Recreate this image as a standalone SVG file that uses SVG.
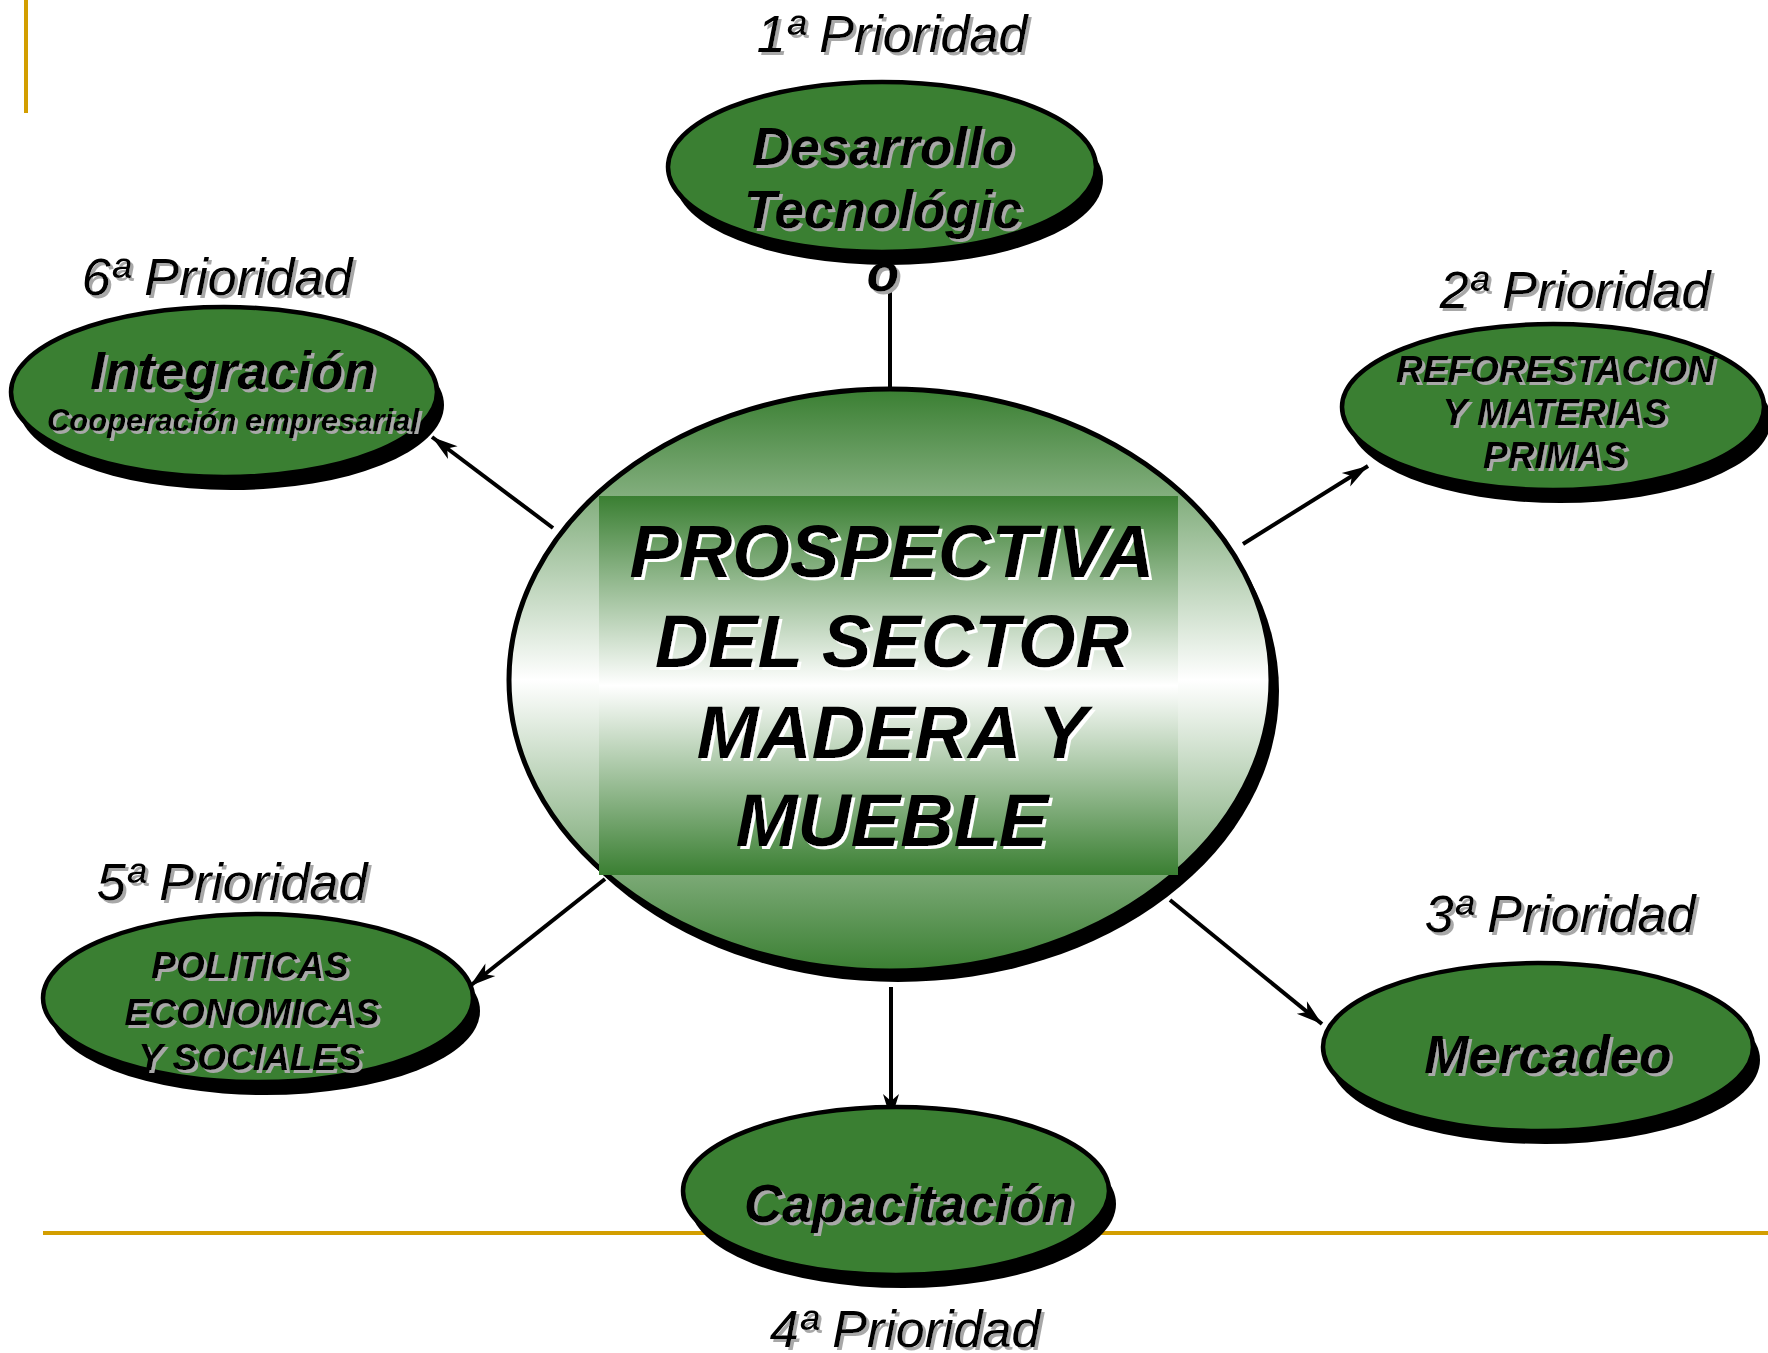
<svg xmlns="http://www.w3.org/2000/svg" width="1768" height="1353" viewBox="0 0 1768 1353">
<defs>
<style>
.bg{fill:#ffffff}
.gold{stroke:#d39e00;stroke-width:4;fill:none}
.node{fill:#3a7f32;stroke:#000;stroke-width:4.5}
.shadow{fill:#000}
.conn{stroke:#000;stroke-width:4;fill:none}
.prio{font-family:"Liberation Sans",Arial,sans-serif;font-style:italic;font-size:52px;fill:#000;text-anchor:middle;filter:url(#tsGray)}
.lbl{font-family:"Liberation Sans",Arial,sans-serif;font-style:italic;font-weight:bold;fill:#000;text-anchor:middle;filter:url(#tsGray)}
.big{font-size:53px}
.mid{font-size:37px}
.sm{font-size:31px}
.ctr{font-family:"Liberation Sans",Arial,sans-serif;font-style:italic;font-weight:bold;font-size:74px;fill:#000;text-anchor:middle;filter:url(#tsWhite)}
</style>
<linearGradient id="gEll" x1="0" y1="0" x2="0" y2="1">
<stop offset="0" stop-color="#3a7f32"/>
<stop offset="0.5" stop-color="#ffffff"/>
<stop offset="1" stop-color="#3a7f32"/>
</linearGradient>
<linearGradient id="gRect" x1="0" y1="0" x2="0" y2="1">
<stop offset="0" stop-color="#3a7f32"/>
<stop offset="0.5" stop-color="#ffffff"/>
<stop offset="1" stop-color="#3a7f32"/>
</linearGradient>
<filter id="tsGray" x="-10%" y="-20%" width="120%" height="140%">
<feOffset in="SourceAlpha" dx="2.5" dy="2.5" result="o"/>
<feFlood flood-color="#a8a8a8"/>
<feComposite in2="o" operator="in" result="s"/>
<feMerge><feMergeNode in="s"/><feMergeNode in="SourceGraphic"/></feMerge>
</filter>
<filter id="tsWhite" x="-10%" y="-20%" width="120%" height="140%">
<feOffset in="SourceAlpha" dx="3" dy="3" result="o"/>
<feFlood flood-color="#ffffff"/>
<feComposite in2="o" operator="in" result="s"/>
<feMerge><feMergeNode in="s"/><feMergeNode in="SourceGraphic"/></feMerge>
</filter>
<marker id="arr" markerUnits="userSpaceOnUse" markerWidth="28" markerHeight="16" refX="26" refY="8" orient="auto" overflow="visible">
<path d="M0,0 L26,8 L0,16 L7,8 Z" fill="#000"/>
</marker>
</defs>
<rect class="bg" x="0" y="0" width="1768" height="1353"/>
<g id="frame">
<line class="gold" x1="26" y1="0" x2="26" y2="113"/>
<line class="gold" x1="43" y1="1233" x2="1768" y2="1233"/>
</g>
<g id="connectors">
<line class="conn" x1="890" y1="388" x2="890" y2="285"/>
<line class="conn" x1="1243" y1="544" x2="1368" y2="466" marker-end="url(#arr)"/>
<line class="conn" x1="1170" y1="900" x2="1322" y2="1024" marker-end="url(#arr)"/>
<line class="conn" x1="891" y1="987" x2="891" y2="1120" marker-end="url(#arr)"/>
<line class="conn" x1="605" y1="879" x2="470" y2="986" marker-end="url(#arr)"/>
<line class="conn" x1="553" y1="528" x2="432" y2="437" marker-end="url(#arr)"/>
</g>
<g id="center">
<ellipse class="shadow" cx="898" cy="691" rx="381" ry="291"/>
<ellipse cx="890" cy="680" rx="381" ry="291" fill="url(#gEll)" stroke="#000" stroke-width="5"/>
<rect x="599" y="496" width="579" height="379" fill="url(#gRect)"/>
<text class="ctr" x="892" y="577">PROSPECTIVA</text>
<text class="ctr" x="892" y="667">DEL SECTOR</text>
<text class="ctr" x="892" y="758">MADERA Y</text>
<text class="ctr" x="892" y="846">MUEBLE</text>
</g>
<g id="n1">
<text class="prio" x="892" y="52">1ª Prioridad</text>
<ellipse class="shadow" cx="889" cy="180" rx="214" ry="85"/>
<ellipse class="node" cx="882" cy="167" rx="214" ry="85"/>
<text class="lbl big" x="883" y="165">Desarrollo</text>
<text class="lbl big" x="883" y="228">Tecnológic</text>
<text class="lbl big" x="883" y="291">o</text>
</g>
<g id="n2">
<text class="prio" x="1575" y="308">2ª Prioridad</text>
<ellipse class="shadow" cx="1560" cy="420" rx="211" ry="83"/>
<ellipse class="node" cx="1553" cy="407" rx="211" ry="83"/>
<text class="lbl mid" x="1555" y="382">REFORESTACION</text>
<text class="lbl mid" x="1555" y="425">Y MATERIAS</text>
<text class="lbl mid" x="1555" y="468">PRIMAS</text>
</g>
<g id="n3">
<text class="prio" x="1560" y="932">3ª Prioridad</text>
<ellipse class="shadow" cx="1545" cy="1060" rx="215" ry="84"/>
<ellipse class="node" cx="1538" cy="1047" rx="215" ry="84"/>
<text class="lbl big" x="1548" y="1073">Mercadeo</text>
</g>
<g id="n4">
<ellipse class="shadow" cx="903" cy="1204" rx="213" ry="84"/>
<ellipse class="node" cx="896" cy="1191" rx="213" ry="84"/>
<text class="lbl big" x="909" y="1222">Capacitación</text>
<text class="prio" x="905" y="1347">4ª Prioridad</text>
</g>
<g id="n5">
<text class="prio" x="232" y="900">5ª Prioridad</text>
<ellipse class="shadow" cx="265" cy="1011" rx="215" ry="84"/>
<ellipse class="node" cx="258" cy="998" rx="215" ry="84"/>
<text class="lbl mid" x="250" y="978">POLITICAS</text>
<text class="lbl mid" x="252" y="1025">ECONOMICAS</text>
<text class="lbl mid" x="250" y="1070">Y SOCIALES</text>
</g>
<g id="n6">
<text class="prio" x="217" y="295">6ª Prioridad</text>
<ellipse class="shadow" cx="231" cy="405" rx="213" ry="85"/>
<ellipse class="node" cx="224" cy="392" rx="213" ry="85"/>
<text class="lbl big" x="233" y="389">Integración</text>
<text class="lbl sm" x="233" y="431">Cooperación empresarial</text>
</g>
</svg>
